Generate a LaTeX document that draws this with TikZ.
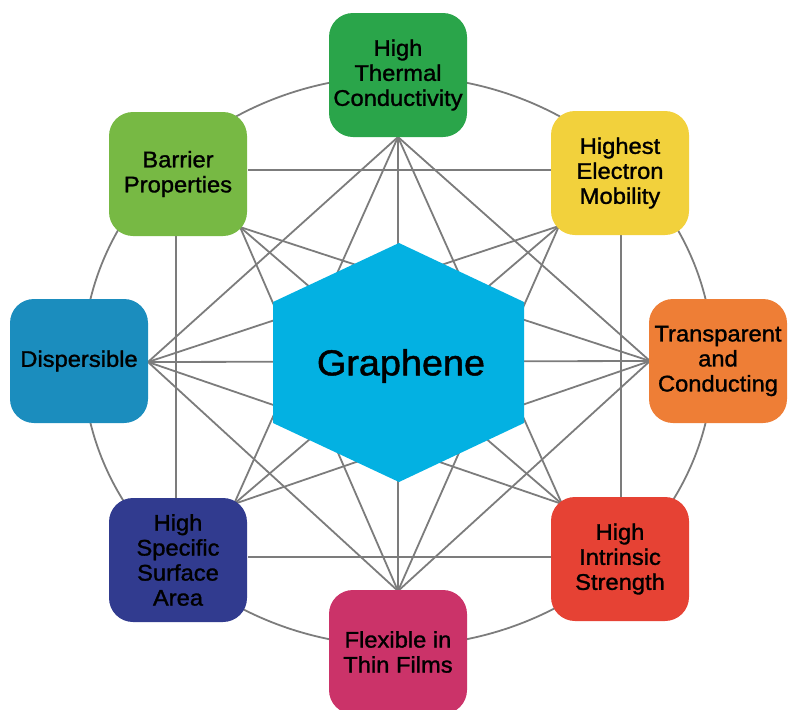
\documentclass[tikz,border=0pt]{standalone}
\usepackage{fontspec}
\setmainfont{Liberation Sans}[FakeStretch=1.05,FakeBold=1.3]
\definecolor{cTop}{HTML}{2AA54A}
\definecolor{cBar}{HTML}{77B944}
\definecolor{cHig}{HTML}{F2D13C}
\definecolor{cTra}{HTML}{EE7E36}
\definecolor{cInt}{HTML}{E64234}
\definecolor{cFle}{HTML}{CB3369}
\definecolor{cSpe}{HTML}{313B8F}
\definecolor{cDis}{HTML}{1B8DBE}
\definecolor{cHex}{HTML}{03B1E2}
\definecolor{linegray}{HTML}{7C7C7C}
\begin{document}
\begin{tikzpicture}[x=1pt,y=-1pt,
  box/.style={rectangle, rounded corners=24pt, minimum width=138pt, minimum height=124pt, inner sep=0pt, align=center, font=\fontsize{22.6}{25}\selectfont, text=black},
  link/.style={draw=linegray, line width=1.8pt},
]
\useasboundingbox (0,0) rectangle (788,710);
% outer ring
\draw[link] (398,361) ellipse [x radius=315pt, y radius=285pt];
% connection points
\coordinate (pT) at (398,137);
\coordinate (pB) at (240,227);
\coordinate (pH) at (559,226);
\coordinate (pD) at (148,362);
\coordinate (pR) at (650,361);
\coordinate (pS) at (234,504);
\coordinate (pI) at (562,504);
\coordinate (pF) at (398,591);
% inner square
\coordinate (bE) at (248,170); \coordinate (hW) at (551,170);
\coordinate (bS) at (176,236); \coordinate (sN) at (176,499);
\coordinate (hS) at (621,235); \coordinate (iN) at (621,497);
\coordinate (sE) at (248,557); \coordinate (iW) at (551,557);
\draw[link] (bE) -- (hW);
\draw[link] (bS) -- (sN);
\draw[link] (hS) -- (iN);
\draw[link] (sE) -- (iW);
% distance 2
\draw[link] (pT) -- (pR);
\draw[link] (pR) -- (pF);
\draw[link] (pF) -- (pD);
\draw[link] (pD) -- (pT);
% distance 3
\draw[link] (pT) -- (pI);
\draw[link] (pH) -- (pF);
\draw[link] (pR) -- (pS);
\draw[link] (pI) -- (pD);
\draw[link] (pF) -- (pB);
\draw[link] (pS) -- (pT);
\draw[link] (pD) -- (pH);
\draw[link] (pB) -- (pR);
% distance 4
\draw[link] (pT) -- (pF);
\draw[link] (pH) -- (pS);
\draw[link] (pR) -- (pD);
\draw[link] (pI) -- (pB);
% hexagon
\fill[cHex] (399,243) -- (524,302) -- (524,423) -- (399,482) -- (273,423) -- (273,302) -- cycle;
\node[font=\fontsize{36}{40}\selectfont, text=black] (G) at (401,366) {Graphene};
% boxes
\node[box, fill=cTop] (T) at (398,75) {High\\Thermal\\Conductivity};
\node[box, fill=cBar] (B) at (178,174) {Barrier\\Properties};
\node[box, fill=cHig] (H) at (620,173) {Highest\\Electron\\Mobility};
\node[box, fill=cDis] (D) at (79,361) {Dispersible};
\node[box, fill=cTra] (R) at (718,361) {Transparent\\and\\Conducting};
\node[box, fill=cSpe] (S) at (178,560) {High\\Specific\\Surface\\Area};
\node[box, fill=cInt] (I) at (620,559) {High\\Intrinsic\\Strength};
\node[box, fill=cFle] (F) at (398,652) {Flexible in\\Thin Films};
\end{tikzpicture}
\end{document}
